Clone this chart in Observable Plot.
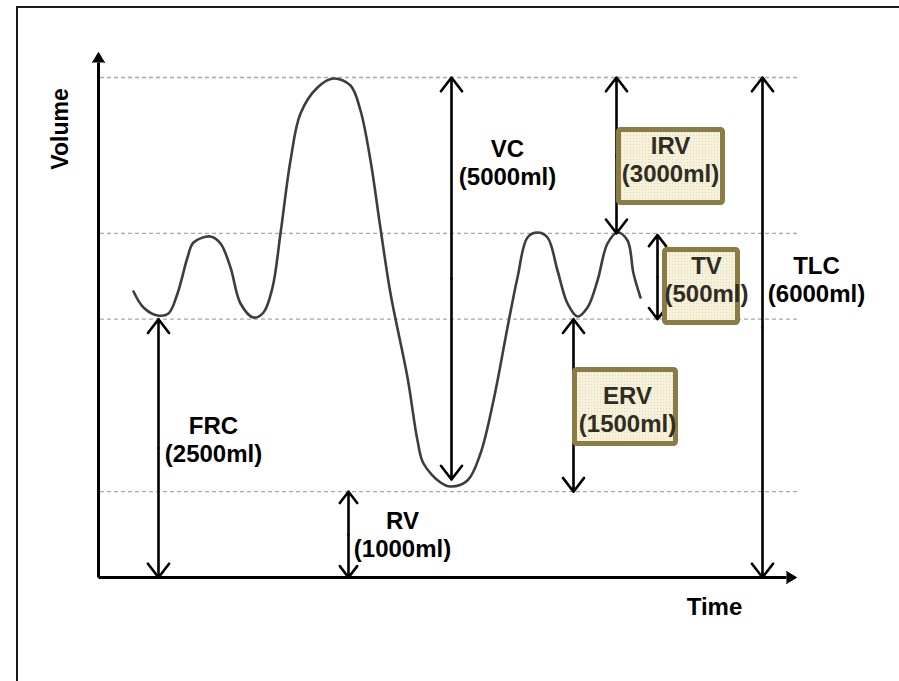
<!DOCTYPE html>
<html>
<head>
<meta charset="utf-8">
<script src="https://cdn.jsdelivr.net/npm/d3@7"></script>
<script src="https://cdn.jsdelivr.net/npm/@observablehq/plot@0.6"></script>
<style>
  html, body { margin: 0; padding: 0; background: #fff; }
  #wrap { position: relative; width: 899px; height: 681px; overflow: hidden; background: #fff; }
  #chart svg { display: block; }
  #frame { position: absolute; left: 16px; top: 6px; width: 1000px; height: 1000px;
           border-left: 2px solid #1a1a1a; border-top: 2px solid #1a1a1a; pointer-events: none; }
</style>
</head>
<body>
<div id="wrap"><div id="chart"></div><div id="frame"></div></div>
<script>
// ---- Spirogram trace (time units, volume in ml as drawn) ----
const curveTime = [35, 45, 59, 70, 79, 89, 95, 112, 122, 132, 142, 155, 165, 174, 182, 192, 202, 219, 235, 252, 262, 272, 282, 292, 309, 319, 325, 342, 352, 369, 382, 395, 409, 419, 429, 439, 449, 459, 469, 479, 489, 499, 509, 519, 529, 535, 542];
const curveVolume = [3432, 3240, 3144, 3168, 3408, 3840, 4020, 4092, 4008, 3720, 3288, 3120, 3180, 3480, 4128, 5004, 5568, 5880, 5988, 5904, 5604, 5004, 4188, 3408, 2400, 1644, 1368, 1140, 1092, 1164, 1488, 2124, 3000, 3600, 4080, 4140, 4080, 3684, 3288, 3132, 3240, 3564, 4008, 4140, 4044, 3648, 3360];

// ---- Reference levels (dashed lines) ----
const levelVolumes = [6000, 4130, 3100, 1030];

// ---- Lung volumes / capacities ----
const measureNames = ["FRC", "RV", "VC", "IRV", "TV", "ERV", "TLC"];
const measureMl    = [2500, 1000, 5000, 3000, 500, 1500, 6000];
const measureTime  = [60, 250, 353, 518, 559, 475, 664];
const measureFrom  = [3100, 1030, 6000, 6000, 4110, 3100, 6000];
const measureTo    = [0, 0, 1175, 4130, 3100, 1030, 0];
const measureBoxed = [false, false, false, true, true, true, false];

// ---- Label anchors (time, volume) ----
const labelTime   = [115, 304, 409, 572, 608, 529, 718];
const labelVolume = [1728, 588, 5052, 5088, 3648, 2088, 3648];

// ---- Axis titles and axis extents ----
const axisTitles = ["Volume", "Time"];
const axisEnds = {time: 688, volume: 6180, dashEnd: 699};

// layout only: box extents in px relative to label anchor [left, right, top, bottom]
const boxLayout = {IRV: [-54, 55, -26, 52], TV: [-44, 34, -26, 52], ERV: [-55, 51, -36, 43]};

const curve = curveTime.map((t, i) => ({t, v: curveVolume[i]}));
const measures = measureNames.map((name, i) => ({
  name, ml: measureMl[i], t: measureTime[i], from: measureFrom[i], to: measureTo[i],
  boxed: measureBoxed[i], lt: labelTime[i], lv: labelVolume[i]
}));
// each double-headed arrow = two halves from its midpoint
const halves = measures.flatMap(d => {
  const mid = (d.from + d.to) / 2;
  return [{t: d.t, a: mid, b: d.from}, {t: d.t, a: mid, b: d.to}];
});
const axes = [
  {x1: 0, y1: 0, x2: 0, y2: axisEnds.volume, dir: 0},
  {x1: 0, y1: 0, x2: axisEnds.time, y2: 0, dir: 90}
];

const FONT = "'Liberation Sans', Arial, Helvetica, sans-serif";

function boxes(...args) {
  const s = args.find(a => a && typeof a.x === "function" && typeof a.y === "function");
  const g = d3.create("svg:g");
  const pat = g.append("defs").append("pattern")
    .attr("id", "grain").attr("width", 3).attr("height", 3).attr("patternUnits", "userSpaceOnUse");
  pat.append("rect").attr("width", 3).attr("height", 3).attr("fill", "#f6f1da");
  pat.append("rect").attr("width", 1).attr("height", 1).attr("fill", "#e2d8b2");
  measures.filter(d => d.boxed).forEach(d => {
    const [l, r, t, b] = boxLayout[d.name];
    const cx = s.x(d.lt), cy = s.y(d.lv);
    g.append("rect")
      .attr("x", cx + l + 2.5).attr("y", cy + t + 2.5)
      .attr("width", r - l - 5).attr("height", b - t - 5)
      .attr("rx", 2)
      .attr("fill", "url(#grain)")
      .attr("stroke", "#8b7b45").attr("stroke-width", 5);
  });
  return g.node();
}

const plot = Plot.plot({
  width: 899,
  height: 681,
  marginLeft: 98,
  marginRight: 101,
  marginTop: 77,
  marginBottom: 104,
  x: {domain: [0, 700], axis: null},
  y: {domain: [0, 6000], axis: null},
  style: {background: "transparent", fontFamily: FONT},
  marks: [
    Plot.ruleY(levelVolumes, {y: d => d, x1: 2, x2: axisEnds.dashEnd, stroke: "#a9a9a9", strokeWidth: 1.4, strokeDasharray: "4,3"}),
    Plot.line(curve, {x: "t", y: "v", curve: "catmull-rom", stroke: "#3d3d3d", strokeWidth: 2.6}),
    // axes with filled arrowheads
    Plot.link(axes, {x1: "x1", y1: "y1", x2: "x2", y2: "y2", stroke: "#000", strokeWidth: 3}),
    Plot.vector(axes, {x: "x2", y: "y2", rotate: "dir", shape: "spike", anchor: "start",
      length: 10, r: 6, fill: "#000", stroke: "#000", strokeWidth: 1}),
    // measurement arrows
    Plot.arrow(halves, {x1: "t", x2: "t", y1: "a", y2: "b", stroke: "#000", strokeWidth: 2.6,
      headAngle: 75, headLength: 10}),
    boxes,
    Plot.text(measures.filter(d => !d.boxed), {
      x: "lt", y: "lv", text: d => `${d.name}\n(${d.ml}ml)`,
      lineAnchor: "bottom", lineHeight: 28 / 24, dy: 28,
      fontSize: 24, fontWeight: "bold", fill: "#000", textAnchor: "middle"
    }),
    Plot.text(measures.filter(d => d.boxed), {
      x: "lt", y: "lv", text: d => `${d.name}\n(${d.ml}ml)`,
      lineAnchor: "bottom", lineHeight: 28 / 24, dy: 28,
      fontSize: 24, fontWeight: "bold", fill: "#2f2c24", textAnchor: "middle"
    }),
    Plot.text([axisTitles[0]], {x: -31, y: 5382, text: d => d, rotate: -90, lineAnchor: "bottom",
      fontSize: 23, fontWeight: "bold", fill: "#000", textAnchor: "middle"}),
    Plot.text([axisTitles[1]], {x: 616, y: -444, text: d => d, lineAnchor: "bottom",
      fontSize: 24, fontWeight: "bold", fill: "#000", textAnchor: "middle"})
  ]
});
document.getElementById("chart").appendChild(plot);
</script>
</body>
</html>
